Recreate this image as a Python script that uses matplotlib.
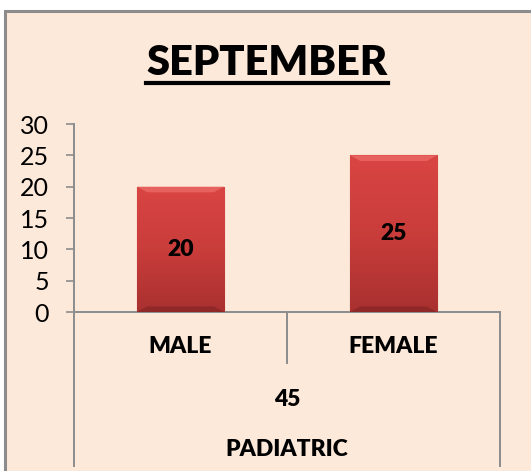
import numpy as np
import matplotlib
matplotlib.use("Agg")
import matplotlib.pyplot as plt
from matplotlib.patches import Rectangle

# data
categories = ["MALE", "FEMALE"]
values = [20, 25]
total_label = "45"
group_label = "PADIATRIC"
title = "SEPTEMBER"

plt.rcParams["font.family"] = ["Lato", "DejaVu Sans"]

W, H = 531, 471
fig = plt.figure(figsize=(W / 100, H / 100), dpi=100)
fig.patch.set_facecolor("white")

# chart area frame (peach)
bg = "#FDE9DA"
fig.patches.append(Rectangle((5 / W, -0.01), 1.02, 1 - 11 / H + 0.01,
                             transform=fig.transFigure, facecolor=bg,
                             edgecolor="#8c8c8c", linewidth=2.2, zorder=-5))

ax = fig.add_axes([74 / W, 159 / H, 426 / W, 188 / H])
ax.set_facecolor("none")
ax.set_zorder(2)

x = np.arange(len(categories))
bars = ax.bar(x, values, width=0.41, color="#C83A38", edgecolor="#8e2a28",
              linewidth=0.8, zorder=2)

# vertical gradient + bevel on each bar
grad = np.linspace(0, 1, 100).reshape(-1, 1)
cmap = matplotlib.colors.LinearSegmentedColormap.from_list(
    "bar", ["#A93130", "#C93D3B", "#D94543"])
lab_font = dict(fontsize=16.5, fontweight="heavy", color="black")
for b in bars:
    x0, w, h = b.get_x(), b.get_width(), b.get_height()
    im = ax.imshow(grad, extent=[x0, x0 + w, 0, h], origin="lower",
                   cmap=cmap, aspect="auto", zorder=3)
    im.set_clip_path(b)
    # top bevel highlight
    ax.fill([x0, x0 + w, x0 + w * 0.88, x0 + w * 0.12],
            [h, h, h - 0.9, h - 0.9], color="#EE6E6B", alpha=0.7, zorder=4, lw=0)
    # bottom bevel shadow
    ax.fill([x0, x0 + w, x0 + w * 0.88, x0 + w * 0.12],
            [0, 0, 0.9, 0.9], color="#7E2221", alpha=0.6, zorder=4, lw=0)
    ax.text(x0 + w / 2, h / 2, f"{h:g}", ha="center", va="center",
            zorder=5, **lab_font)

ax.set_xlim(-0.5, len(categories) - 0.5)
ax.set_ylim(0, 30)
ax.set_yticks(range(0, 31, 5))
ax.tick_params(axis="y", labelsize=18, length=6, width=1.2, color="#8c8c8c",
               pad=12, labelcolor="black")
ax.set_xticks([])
for s in ["top", "right"]:
    ax.spines[s].set_visible(False)
ax.spines["left"].set_color("#8c8c8c")
ax.spines["left"].set_linewidth(1.4)
ax.spines["bottom"].set_color("#8c8c8c")
ax.spines["bottom"].set_linewidth(1.4)

# multi-level category axis
tr = ax.get_xaxis_transform()
lc = "#8c8c8c"
for xb in [-0.5, len(categories) - 0.5]:
    ax.plot([xb, xb], [0, -0.819], transform=tr, color=lc, lw=1.4, clip_on=False)
for xb in np.arange(0.5, len(categories) - 0.5):
    ax.plot([xb, xb], [0, -0.271], transform=tr, color=lc, lw=1.4, clip_on=False)
for xi, c in zip(x, categories):
    ax.text(xi, -0.186, c, transform=tr, ha="center", va="center", **lab_font)
mid = (len(categories) - 1) / 2
ax.text(mid, -0.463, total_label, transform=tr, ha="center", va="center",
        **lab_font)
ax.text(mid, -0.729, group_label, transform=tr, ha="center", va="center",
        **lab_font)

# title, underlined
t = fig.text(267 / W, 1 - 63 / H, title, ha="center", va="center",
             fontsize=30, fontweight="heavy")
fig.canvas.draw()
bb = t.get_window_extent().transformed(fig.transFigure.inverted())
fig.add_artist(matplotlib.lines.Line2D([bb.x0, bb.x1], [1 - 83 / H] * 2,
                                       transform=fig.transFigure,
                                       color="black", lw=3))

fig.savefig("out.png", dpi=100, facecolor=fig.get_facecolor())
